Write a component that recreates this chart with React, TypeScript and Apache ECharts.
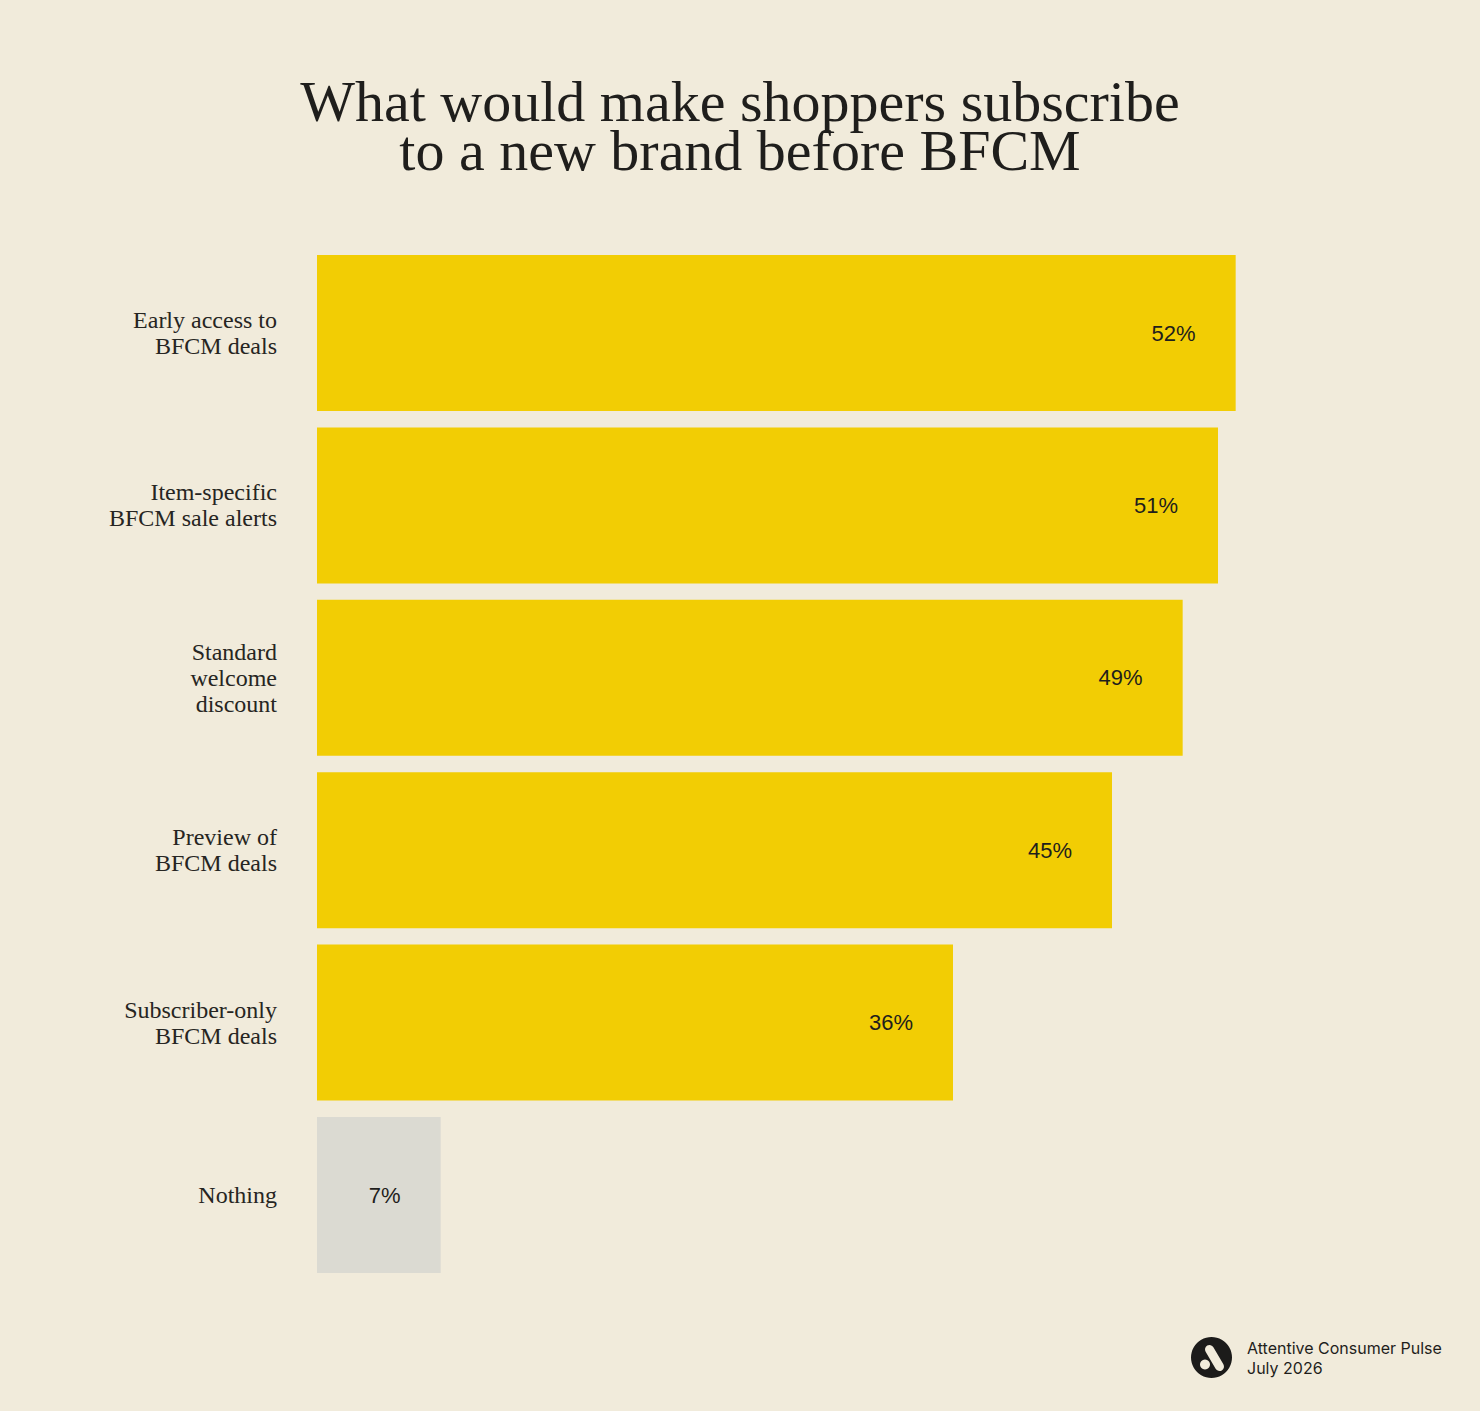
import React, { useEffect, useRef } from "react";
import * as echarts from "echarts";

// Survey answers, top to bottom
const categories = [
  "Early access to\nBFCM deals",
  "Item-specific\nBFCM sale alerts",
  "Standard\nwelcome\ndiscount",
  "Preview of\nBFCM deals",
  "Subscriber-only\nBFCM deals",
  "Nothing",
];
const shares = [52, 51, 49, 45, 36, 7];
const barColors = ["#f2cd04", "#f2cd04", "#f2cd04", "#f2cd04", "#f2cd04", "#dbdad2"];

const titleLines = ["What would make shoppers subscribe", "to a new brand before BFCM"];
const sourceLines = ["Attentive Consumer Pulse", "July 2026"];

const W = 1480;
const H = 1411;

export default function App() {
  const ref = useRef<HTMLDivElement>(null);

  useEffect(() => {
    document.body.style.margin = "0";
    if (!ref.current) return;
    const chart = echarts.init(ref.current, undefined, { renderer: "svg" });

    const option: echarts.EChartsOption = {
      animation: false,
      backgroundColor: "#f1ebdb",
      grid: {
        left: 317,
        right: 103,
        top: 246.8,
        bottom: 129.8,
        containLabel: false,
      },
      xAxis: {
        type: "value",
        min: 0,
        max: 60,
        show: false,
      },
      yAxis: {
        type: "category",
        inverse: true,
        data: categories,
        axisLine: { show: false },
        axisTick: { show: false },
        axisLabel: {
          margin: 40,
          fontFamily: "Liberation Serif",
          fontSize: 24,
          lineHeight: 26,
          color: "#262522",
          align: "right",
        },
      },
      series: [
        {
          type: "bar",
          barWidth: 156,
          data: shares.map((v, i) => ({ value: v, itemStyle: { color: barColors[i] } })),
          label: {
            show: true,
            position: "insideRight",
            distance: 40,
            formatter: "{c}%",
            fontFamily: "Liberation Sans",
            fontSize: 22,
            color: "#1f1e1c",
          },
        },
      ],
      graphic: [
        {
          type: "text",
          x: 740,
          y: 77,
          style: {
            text: titleLines.join("\n"),
            font: "58px 'Liberation Serif'",
            lineHeight: 49,
            fill: "#1f1e1c",
            align: "center",
            verticalAlign: "top",
          },
        },
        {
          type: "group",
          left: 1191,
          top: 1337,
          children: [
            { type: "circle", shape: { cx: 21, cy: 21, r: 20.5 }, style: { fill: "#1c1b1a" } },
            {
              type: "line",
              shape: { x1: 19, y1: 13, x2: 29, y2: 30 },
              style: { stroke: "#f1ebdb", lineWidth: 9, lineCap: "round" },
            },
            { type: "circle", shape: { cx: 14.5, cy: 28, r: 5 }, style: { fill: "#f1ebdb" } },
          ],
        },
        {
          type: "text",
          left: 1247,
          top: 1338,
          style: {
            text: sourceLines.join("\n"),
            font: "16px Inter",
            lineHeight: 20,
            fill: "#1f1e1c",
          },
        },
      ],
    };

    chart.setOption(option);
    return () => chart.dispose();
  }, []);

  return <div ref={ref} style={{ width: W, height: H }} />;
}
